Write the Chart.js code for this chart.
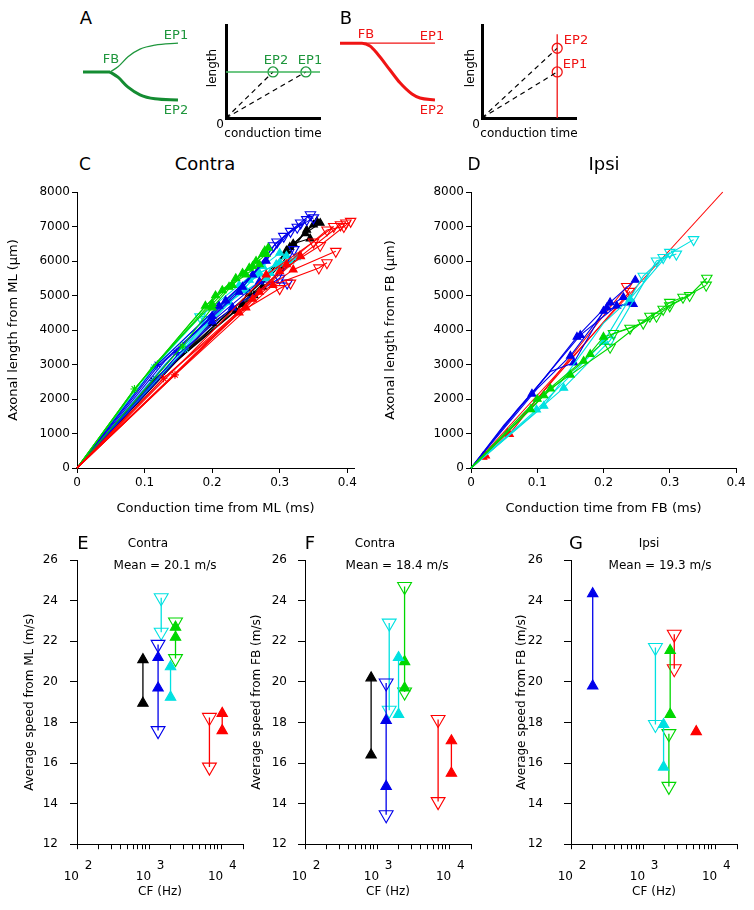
<!DOCTYPE html>
<html>
<head>
<meta charset="utf-8">
<script src="https://cdn.jsdelivr.net/npm/chart.js@4.4.1/dist/chart.umd.min.js"></script>
<style>
  body { margin: 0; background: #fff; width: 754px; height: 910px; position: relative; overflow: hidden; font-family: "DejaVu Sans", sans-serif; }
  .box { position: absolute; }
  .t { position: absolute; transform: translate(-50%, -50%); white-space: nowrap; line-height: 1; color: #000; }
  .r { transform: translate(-50%, -50%) rotate(-90deg); }
</style>
</head>
<body>
<script>
// ---- data ----

// A / B schematics (arbitrary units)
const aTrunk = [[0.03, 0.475], [0.30, 0.475]];
const aUpper = [[0.30, 0.475], [0.38, 0.54], [0.48, 0.665], [0.60, 0.76], [0.75, 0.81], [0.98, 0.835]];
const aLower = [[0.30, 0.475], [0.38, 0.41], [0.48, 0.285], [0.60, 0.19], [0.75, 0.14], [0.98, 0.125]];
const bThin = [[0.05, 0.835], [1.0, 0.835]];
const bThick = [[0.05, 0.835], [0.27, 0.835], [0.35, 0.80], [0.42, 0.71], [0.55, 0.50], [0.65, 0.34], [0.77, 0.20], [0.85, 0.15], [1.0, 0.125]];
const aInsetLine = [[0, 0.495], [1, 0.495]];
const aInsetEP = [[0.5, 0.495], [0.85, 0.495]];   // EP2, EP1
const bInsetLine = [[0.8, 0], [0.8, 0.9]];
const bInsetEP = [[0.8, 0.75], [0.8, 0.495]];     // EP2, EP1

// C: contra, [time ms, length um, marker]
const cGreen = [
  [[0, 0], [0.085, 2290, 's'], [0.17, 4250], [0.205, 5000, 'u'], [0.235, 5500, 'u'], [0.265, 6000, 'u'], [0.283, 6380, 'u']],
  [[0, 0], [0.085, 2290], [0.16, 3950], [0.215, 5150, 'u'], [0.245, 5650, 'u'], [0.275, 6200, 'u']],
  [[0, 0], [0.156, 3530, 's'], [0.2, 4650, 'u'], [0.23, 5300, 'u'], [0.255, 5800, 'u'], [0.278, 6300, 'u']],
  [[0, 0], [0.11, 2900], [0.2, 4750, 'u'], [0.225, 5250, 'u'], [0.25, 5600, 'u'], [0.27, 5900, 'u']],
  [[0, 0], [0.09, 2400], [0.19, 4700, 'u'], [0.26, 5850, 'u'], [0.28, 6200, 'u']]
];
const cCyan = [
  [[0, 0], [0.114, 2920, 's'], [0.182, 4380, 'd'], [0.24, 5300, 'u'], [0.275, 5850, 'u'], [0.3, 6230, 'u']],
  [[0, 0], [0.114, 2900], [0.2, 4500], [0.255, 5450, 'u'], [0.286, 5650, 'u'], [0.315, 6000, 'u']],
  [[0, 0], [0.16, 3450, 's'], [0.19, 4300, 'd'], [0.265, 5600, 'u'], [0.295, 5900, 'u'], [0.31, 6150, 'u']],
  [[0, 0], [0.13, 3000], [0.225, 4800, 'u'], [0.25, 5150, 'u'], [0.28, 5500, 'u']],
  [[0, 0], [0.15, 3300], [0.27, 5650, 'u'], [0.3, 5950, 'u'], [0.325, 6100, 'u']]
];
const cBlue = [
  [[0, 0], [0.119, 3000, 's'], [0.21, 4700, 'u'], [0.26, 5600, 'u'], [0.291, 6440, 'd'], [0.331, 7100, 'd']],
  [[0, 0], [0.147, 3350, 's'], [0.22, 4850, 'u'], [0.28, 6000, 'u'], [0.306, 6715, 'd'], [0.3455, 7340, 'd']],
  [[0, 0], [0.12, 2950], [0.2, 4400, 'u'], [0.245, 5250, 'u'], [0.316, 6860, 'd'], [0.35, 7250, 'd']],
  [[0, 0], [0.15, 3300], [0.23, 4650, 'u'], [0.3, 5500, 'd'], [0.321, 6330, 'd']],
  [[0, 0], [0.2, 4250, 'u'], [0.27, 5400, 'u'], [0.311, 5360, 'd']],
  [[0, 0], [0.13, 3100], [0.24, 5100, 'u'], [0.296, 6550, 'd'], [0.326, 6980, 'd'], [0.34, 7200, 'd']]
];
const cBlack = [
  [[0, 0], [0.113, 2540, 's'], [0.235, 4550, 'u'], [0.262, 5000, 'u'], [0.31, 6300, 'u'], [0.355, 7150, 'u']],
  [[0, 0], [0.113, 2540], [0.245, 4750, 'u'], [0.3, 5850, 'u'], [0.34, 6900, 'u'], [0.35, 7050, 'u']],
  [[0, 0], [0.12, 2600], [0.255, 5050, 'u'], [0.32, 6500, 'u'], [0.345, 6650, 'u']],
  [[0, 0], [0.2, 4200, 'u'], [0.275, 5250, 'u'], [0.33, 6150, 'u']],
  [[0, 0], [0.12, 2650], [0.28, 5500, 'u'], [0.315, 6400, 'u'], [0.338, 6800, 'u'], [0.36, 7100, 'u']]
];
const cRed = [
  [[0, 0], [0.128, 2600, 's'], [0.25, 4650, 'u'], [0.3, 5700, 'u'], [0.36, 6450, 'd'], [0.405, 7150, 'd']],
  [[0, 0], [0.145, 2700, 's'], [0.27, 5100, 'u'], [0.331, 6135, 'u'], [0.39, 7050, 'd'], [0.398, 7100, 'd']],
  [[0, 0], [0.128, 2600], [0.26, 4900, 'u'], [0.32, 5750, 'u'], [0.383, 6280, 'd']],
  [[0, 0], [0.145, 2700], [0.29, 5300, 'u'], [0.358, 5800, 'd'], [0.37, 5950, 'd']],
  [[0, 0], [0.24, 4500, 'u'], [0.3, 5200, 'd'], [0.316, 5360, 'd']],
  [[0, 0], [0.2, 3950], [0.28, 5600, 'u'], [0.35, 6550, 'd'], [0.38, 7000, 'd']],
  [[0, 0], [0.14, 2650], [0.31, 5900, 'u'], [0.37, 6900, 'd'], [0.395, 7000, 'd']]
];

// D: ipsi
const dRed = [
  [[0, 0], [0.38, 8000]],
  [[0, 0], [0.022, 360, 'u'], [0.058, 980, 'u'], [0.235, 5260, 'd']],
  [[0, 0], [0.018, 320, 'u'], [0.055, 1010, 'u'], [0.24, 5120, 'd']]
];
const dBlue = [
  [[0, 0], [0.05, 1250], [0.092, 2150, 'u'], [0.16, 3800, 'u'], [0.21, 4800, 'u'], [0.248, 5450, 'u']],
  [[0, 0], [0.07, 1700], [0.12, 2800], [0.155, 3050, 'u'], [0.2, 4550, 'u'], [0.24, 4800, 'u']],
  [[0, 0], [0.08, 1900], [0.165, 3850, 'u'], [0.22, 4700, 'u'], [0.245, 4750, 'u']],
  [[0, 0], [0.1, 2300], [0.15, 3250, 'u'], [0.205, 4650, 'u'], [0.23, 4950, 'u']]
];
const dCyan = [
  [[0, 0], [0.099, 1690, 'u'], [0.2, 3650, 'u'], [0.26, 5560, 'd'], [0.29, 6100, 'd'], [0.336, 6620, 'd']],
  [[0, 0], [0.14, 2320, 'u'], [0.21, 3700, 'd'], [0.28, 6000, 'd'], [0.31, 6200, 'd']],
  [[0, 0], [0.11, 1800, 'u'], [0.2, 4200], [0.24, 4900, 'u'], [0.3, 6250, 'd']]
];
const dGreen = [
  [[0, 0], [0.09, 1700, 'u'], [0.11, 2100, 'u'], [0.17, 3100, 'u'], [0.2, 3800, 'u'], [0.24, 4050, 'd'], [0.28, 4400, 'd'], [0.3, 4700, 'd'], [0.33, 5000, 'd'], [0.356, 5500, 'd']],
  [[0, 0], [0.12, 2300, 'u'], [0.15, 2700, 'u'], [0.21, 3500, 'd'], [0.27, 4400, 'd'], [0.29, 4600, 'd'], [0.355, 5300, 'd']],
  [[0, 0], [0.1, 2000, 'u'], [0.18, 3300, 'u'], [0.215, 3900, 'd'], [0.26, 4200, 'd'], [0.3, 4800, 'd'], [0.32, 4950, 'd']]
];

// E-G: average speed (m/s) per fibre against CF (Hz)
const eCF = [820, 1330, 1470, 1980, 2320, 6850, 10300];
const eColor = ['black', 'blue', 'cyan', 'cyan', 'green', 'red', 'red'];
const eFilled = [[21.1, 18.95], [21.2, 19.7], [], [20.75, 19.25], [22.7, 22.2], [], [18.45, 17.6]];
const eHollow = [[], [21.85, 17.6], [24.15, 22.45], [], [22.95, 21.15], [18.25, 15.8], []];

const fCF = [825, 1333, 1470, 1980, 2400, 7000, 10700];
const fColor = ['black', 'blue', 'cyan', 'cyan', 'green', 'red', 'red'];
const fFilled = [[20.2, 16.4], [18.1, 14.85], [], [21.2, 18.4], [21.0, 19.7], [], [17.1, 15.5]];
const fHollow = [[], [19.95, 13.45], [22.9, 18.6], [], [24.7, 19.5], [18.15, 14.1], []];

const gCF = [200, 1480, 1920, 2370, 2275, 2700, 5440];
const gColor = ['blue', 'cyan', 'cyan', 'green', 'green', 'red', 'red'];
const gFilled = [[24.35, 19.8], [], [17.9, 15.8], [21.55, 18.4], [], [], [17.55]];
const gHollow = [[], [21.7, 17.9], [], [], [17.45, 14.85], [22.35, 20.65], []];

const meanSpeed = [20.1, 18.4, 19.3];

// ---- drawing ----
const COL = { green: 'rgb(0,215,0)', cyan: 'rgb(0,225,225)', blue: 'rgb(0,0,235)', black: '#000', red: 'rgb(255,0,0)' };
const SK_GREEN = 'rgb(30,150,60)';
const SK_RED = 'rgb(240,20,20)';
Chart.defaults.font.family = 'DejaVu Sans';
Chart.defaults.color = '#000';

function makeCanvas(left, top, w, h) {
  const d = document.createElement('div');
  d.className = 'box';
  Object.assign(d.style, { left: left + 'px', top: top + 'px', width: w + 'px', height: h + 'px' });
  const c = document.createElement('canvas');
  d.appendChild(c);
  document.body.appendChild(d);
  return c;
}

function text(str, x, y, size, color, cls) {
  const d = document.createElement('div');
  d.className = 't' + (cls ? ' ' + cls : '');
  d.textContent = str;
  Object.assign(d.style, { left: x + 'px', top: y + 'px', fontSize: size + 'px', color: color || '#000' });
  document.body.appendChild(d);
}

const baseOpts = {
  responsive: true, maintainAspectRatio: false, animation: false, events: [],
  plugins: { legend: { display: false }, tooltip: { enabled: false } }
};

function pts(arr) { return arr.map(([x, y, k]) => ({ x, y, k: k || '' })); }

// marker options: 'u' filled up triangle, 'd' hollow down triangle, 's' star
function markers(color, rUp, rDown) {
  return {
    pointRadius: c => (c.raw && c.raw.k) ? (c.raw.k === 'd' ? rDown : c.raw.k === 's' ? 4 : rUp) : 0,
    pointStyle: c => (c.raw && c.raw.k === 's') ? 'star' : 'triangle',
    pointRotation: c => (c.raw && c.raw.k === 'd') ? 180 : 0,
    pointBackgroundColor: c => (c.raw && c.raw.k === 'u') ? color : 'rgba(0,0,0,0)',
    pointBorderColor: color,
    pointBorderWidth: 1.1
  };
}

function pathSets(paths, color) {
  return paths.map(p => Object.assign({
    data: pts(p), showLine: true, borderColor: color, borderWidth: 1.1, clip: false
  }, markers(color, 4.5, 6)));
}

function groupSets(cf, colors, filled, hollow) {
  return cf.map((x, i) => {
    const col = COL[colors[i]];
    const data = filled[i].map(y => ({ x, y, k: 'u' })).concat(hollow[i].map(y => ({ x, y, k: 'd' })));
    data.sort((a, b) => b.y - a.y);
    return Object.assign({ data, showLine: true, borderColor: col, borderWidth: 1.3, clip: false }, markers(col, 6, 8));
  });
}

function axisY(o) {
  return {
    type: 'linear', position: 'left', min: o.min, max: o.max,
    ticks: { stepSize: o.step, padding: o.tickPad, includeBounds: false, font: { size: o.fs }, callback: v => String(v) },
    grid: { drawOnChartArea: false, tickLength: o.tickLen || 5, color: '#000', tickColor: '#000' },
    border: { color: '#000', width: 1 },
    title: { display: true, text: o.title, font: { size: o.tfs }, padding: { top: o.titlePad, bottom: 0 } },
    afterFit: s => { s.width = o.width; }
  };
}

function axisX(o) {
  return {
    type: 'linear', position: 'bottom', min: o.min, max: o.max,
    ticks: { stepSize: o.step, padding: o.tickPad, includeBounds: false, maxRotation: 0, font: { size: o.fs }, callback: v => String(v) },
    grid: { drawOnChartArea: false, tickLength: 5, color: '#000', tickColor: '#000' },
    border: { color: '#000', width: 1 },
    title: { display: true, text: o.title, font: { size: o.tfs }, padding: { top: 0, bottom: 4 } },
    afterFit: s => { s.height = o.height; }
  };
}

const logTicks = [];
for (const d of [100, 1000, 10000]) for (let m = 1; m <= 9; m++) if (d * m <= 20000) logTicks.push(d * m);

function axisLog(height) {
  return {
    type: 'logarithmic', position: 'bottom', min: 100, max: 20000,
    afterBuildTicks: s => { s.ticks = logTicks.map(v => ({ value: v })); },
    ticks: {
      autoSkip: false, maxRotation: 0, minRotation: 0, padding: 11, font: { size: 12, lineHeight: 0.9 },
      callback: v => {
        const p = Math.log10(v);
        return Math.abs(p - Math.round(p)) < 1e-6 ? ['      ' + Math.round(p), '10   '] : '';
      }
    },
    grid: { drawOnChartArea: false, tickLength: 5, color: '#000', tickColor: '#000' },
    border: { color: '#000', width: 1 },
    title: { display: true, text: 'CF (Hz)', font: { size: 12 }, padding: { top: 0, bottom: 4 } },
    afterFit: s => { s.height = height; }
  };
}

// schematic: hidden unit scales
function sketch(canvas, datasets) {
  new Chart(canvas, {
    type: 'scatter',
    data: { datasets },
    options: Object.assign({}, baseOpts, {
      layout: { padding: 0 },
      scales: { x: { display: false, min: 0, max: 1 }, y: { display: false, min: 0, max: 1 } }
    })
  });
}

function inset(canvas, datasets) {
  const hidden = (fit) => ({
    min: 0, max: 1, ticks: { display: false }, grid: { display: false },
    border: { display: true, color: '#000', width: 3 }, afterFit: fit
  });
  new Chart(canvas, {
    type: 'scatter',
    data: { datasets },
    options: Object.assign({}, baseOpts, {
      layout: { padding: { top: 10, right: 10, left: 0, bottom: 0 } },
      scales: {
        x: Object.assign(hidden(s => { s.height = 27; }), { type: 'linear', position: 'bottom' }),
        y: Object.assign(hidden(s => { s.width = 26; }), { type: 'linear', position: 'left' })
      }
    })
  });
}

const line = (arr, color, w, extra) => Object.assign({
  data: pts(arr), showLine: true, borderColor: color, borderWidth: w, pointRadius: 0, clip: false
}, extra || {});
const dash = (p) => line([[0, 0], p], '#000', 1.2, { borderDash: [5, 4] });
const circles = (arr, color) => ({
  data: pts(arr), showLine: false, pointRadius: 5, pointStyle: 'circle',
  pointBackgroundColor: 'rgba(0,0,0,0)', pointBorderColor: color, pointBorderWidth: 1.3, clip: false
});

// A
sketch(makeCanvas(80, 30, 100, 80), [
  line(aTrunk, 'rgb(20,140,50)', 3),
  line(aUpper, SK_GREEN, 1.3, { cubicInterpolationMode: 'monotone' }),
  line(aLower, 'rgb(20,140,50)', 3, { cubicInterpolationMode: 'monotone' })
]);
inset(makeCanvas(200, 15, 130, 130), [
  line(aInsetLine, 'rgb(60,180,90)', 1.5),
  dash(aInsetEP[0]), dash(aInsetEP[1]),
  circles(aInsetEP, SK_GREEN)
]);
// B
sketch(makeCanvas(335, 30, 100, 80), [
  line(bThin, SK_RED, 1.3),
  line(bThick, SK_RED, 3, { cubicInterpolationMode: 'monotone' })
]);
inset(makeCanvas(456, 15, 130, 130), [
  line(bInsetLine, SK_RED, 1.3),
  dash(bInsetEP[0]), dash(bInsetEP[1]),
  circles(bInsetEP, SK_RED)
]);

// C
new Chart(makeCanvas(0, 180, 377, 340), {
  type: 'scatter',
  data: { datasets: [].concat(pathSets(cRed, COL.red), pathSets(cGreen, COL.green), pathSets(cBlue, COL.blue), pathSets(cCyan, COL.cyan), pathSets(cBlack, COL.black)) },
  options: Object.assign({}, baseOpts, {
    layout: { padding: { top: 12, right: 23, left: 0, bottom: 0 } },
    scales: {
      x: axisX({ min: 0, max: 0.41, step: 0.1, tickPad: 3, fs: 12, tfs: 13, title: 'Conduction time from ML (ms)', height: 52 }),
      y: axisY({ min: 0, max: 8000, step: 1000, tickPad: 2, fs: 12, tfs: 13, title: 'Axonal length from ML (\u00b5m)', titlePad: 6, width: 77 })
    }
  })
});

// D
new Chart(makeCanvas(377, 180, 377, 340), {
  type: 'scatter',
  data: { datasets: [].concat(pathSets(dGreen, COL.green), pathSets(dCyan, COL.cyan), pathSets(dBlue, COL.blue), pathSets(dRed, COL.red)) },
  options: Object.assign({}, baseOpts, {
    layout: { padding: { top: 12, right: 18, left: 0, bottom: 0 } },
    scales: {
      x: axisX({ min: 0, max: 0.4, step: 0.1, tickPad: 3, fs: 12, tfs: 13, title: 'Conduction time from FB (ms)', height: 52 }),
      y: axisY({ min: 0, max: 8000, step: 1000, tickPad: 2, fs: 12, tfs: 13, title: 'Axonal length from FB (\u00b5m)', titlePad: 6, width: 94 })
    }
  })
});

// E, F, G  (tick padding also pads the top of a vertical scale, so the canvas is raised by it)
function speedPanel(left, right, yw, tickPad, titlePad, yTitle, sets) {
  const padTop = 7.2 + tickPad;
  const top = 560 - padTop;
  new Chart(makeCanvas(left, top, right + 11 - left, 903 - top), {
    type: 'scatter',
    data: { datasets: sets },
    options: Object.assign({}, baseOpts, {
      layout: { padding: { top: padTop, right: 11, left: 0, bottom: 0 } },
      scales: {
        x: axisLog(59),
        y: axisY({ min: 12, max: 26, step: 2, tickPad, fs: 12, tfs: 12, title: yTitle, titlePad, width: yw, tickLen: 7 })
      }
    })
  });
}
speedPanel(20, 243, 57, 12, 3, 'Average speed from ML (m/s)', groupSets(eCF, eColor, eFilled, eHollow));
speedPanel(246, 471, 59, 11, 4, 'Average speed from FB (m/s)', groupSets(fCF, fColor, fFilled, fHollow));
speedPanel(511, 737, 60, 21, 4, 'Average speed from FB (m/s)', groupSets(gCF, gColor, gFilled, gHollow));

// ---- text ----
text('A', 86, 18, 18);
text('FB', 111, 58, 13, SK_GREEN);
text('EP1', 176, 34, 13, SK_GREEN);
text('EP2', 176, 109, 13, SK_GREEN);
text('EP2', 276, 59, 13, SK_GREEN);
text('EP1', 310, 59, 13, SK_GREEN);
text('length', 212, 68, 12, '#000', 'r');
text('0', 220, 124, 12);
text('conduction time', 273, 133, 12);

text('B', 346, 18, 18);
text('FB', 366, 33, 13, SK_RED);
text('EP1', 432, 35, 13, SK_RED);
text('EP2', 432, 109, 13, SK_RED);
text('EP2', 576, 39, 13, SK_RED);
text('EP1', 575, 63, 13, SK_RED);
text('length', 470, 68, 12, '#000', 'r');
text('0', 476, 124, 12);
text('conduction time', 529, 133, 12);

text('C', 85, 164, 17);
text('Contra', 205, 164, 18);
text('D', 474, 164, 17);
text('Ipsi', 604, 164, 18);

text('E', 83, 543, 18);
text('Contra', 148, 543, 12);
text('Mean = ' + meanSpeed[0] + ' m/s', 165, 565, 12);
text('F', 310, 543, 18);
text('Contra', 375, 543, 12);
text('Mean = ' + meanSpeed[1] + ' m/s', 397, 565, 12);
text('G', 576, 543, 18);
text('Ipsi', 649, 543, 12);
text('Mean = ' + meanSpeed[2] + ' m/s', 660, 565, 12);
</script>
</body>
</html>
